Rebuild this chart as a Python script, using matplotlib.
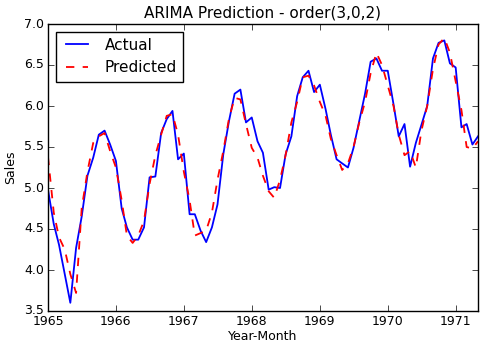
import matplotlib
matplotlib.use('Agg')
import matplotlib.pyplot as plt
import matplotlib.dates as mdates
import pandas as pd

# monthly sales, Jan 1965 - May 1971
months = pd.date_range('1965-01-01', periods=77, freq='MS')
actual = [4.98, 4.56, 4.31, 3.95, 3.60, 4.27, 4.65, 5.15, 5.37, 5.65, 5.70, 5.53,
          5.33, 4.75, 4.52, 4.37, 4.37, 4.52, 5.13, 5.14, 5.67, 5.84, 5.94, 5.35,
          5.42, 4.68, 4.68, 4.48, 4.34, 4.52, 4.80, 5.41, 5.82, 6.15, 6.20, 5.80,
          5.86, 5.57, 5.43, 4.98, 5.01, 5.00, 5.41, 5.63, 6.12, 6.35, 6.43, 6.17,
          6.26, 5.96, 5.65, 5.35, 5.30, 5.25, 5.49, 5.82, 6.15, 6.54, 6.58, 6.43,
          6.43, 6.02, 5.63, 5.78, 5.26, 5.55, 5.77, 6.00, 6.58, 6.77, 6.80, 6.52,
          6.47, 5.74, 5.78, 5.53, 5.63]
predicted = [5.38, 4.70, 4.40, 4.25, 3.95, 3.72, 4.75, 5.20, 5.55, 5.63, 5.67, 5.45,
             5.25, 4.85, 4.42, 4.33, 4.42, 4.60, 5.05, 5.40, 5.65, 5.88, 5.90, 5.65,
             5.20, 4.85, 4.42, 4.45, 4.48, 4.70, 5.10, 5.45, 5.85, 6.10, 6.08, 5.78,
             5.49, 5.37, 5.15, 4.96, 4.88, 5.10, 5.40, 5.80, 6.05, 6.35, 6.37, 6.25,
             6.05, 5.88, 5.60, 5.40, 5.22, 5.30, 5.50, 5.80, 6.05, 6.40, 6.65, 6.50,
             6.25, 6.00, 5.65, 5.40, 5.45, 5.25, 5.70, 6.00, 6.45, 6.75, 6.83, 6.65,
             6.30, 5.95, 5.50, 5.48, 5.57]

plt.style.use('classic')
plt.rcParams['font.family'] = 'DejaVu Sans'

fig = plt.figure(figsize=(4.81, 3.45), dpi=100, facecolor='white')
ax = fig.add_axes([48/481, 1-311/345, 430/481, 287/345])

ax.plot(months, actual, color='b', lw=1.3, label='Actual')
ax.plot(months, predicted, color='r', lw=1.3, ls='--', label='Predicted')

ax.set_xlim(months[0], months[-1])
ax.set_ylim(3.5, 7.0)
ax.set_yticks([3.5, 4.0, 4.5, 5.0, 5.5, 6.0, 6.5, 7.0])
ax.yaxis.set_major_formatter(matplotlib.ticker.FormatStrFormatter('%.1f'))
ax.xaxis.set_major_locator(mdates.YearLocator())
ax.xaxis.set_major_formatter(mdates.DateFormatter('%Y'))
ax.tick_params(labelsize=9, pad=3)

ax.set_title('ARIMA Prediction - order(3,0,2)', fontsize=11)
ax.set_xlabel('Year-Month', fontsize=9, labelpad=1)
ax.set_ylabel('Sales', fontsize=9)
ax.legend(loc='upper left', fontsize=11)

fig.savefig('out.png', dpi=100, facecolor='white')
